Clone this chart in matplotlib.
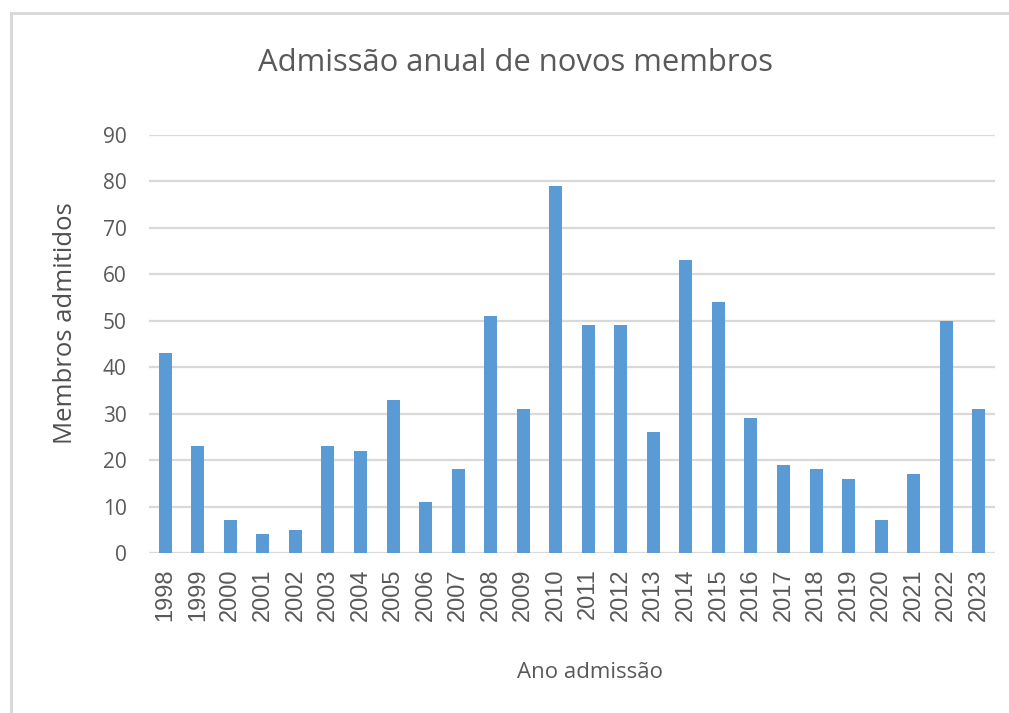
import matplotlib
matplotlib.use("Agg")
import matplotlib.pyplot as plt
from matplotlib.patches import Rectangle

years = ["1998", "1999", "2000", "2001", "2002", "2003", "2004", "2005", "2006",
         "2007", "2008", "2009", "2010", "2011", "2012", "2013", "2014", "2015",
         "2016", "2017", "2018", "2019", "2020", "2021", "2022", "2023"]
members = [43, 23, 7, 4, 5, 23, 22, 33, 11, 18, 51, 31, 79, 49, 49, 26, 63, 54,
           29, 19, 18, 16, 7, 17, 50, 31]
yticks = [0, 10, 20, 30, 40, 50, 60, 70, 80, 90]

title = "Admissão anual de novos membros"
xlabel = "Ano admissão"
ylabel = "Membros admitidos"

W, H = 1009, 713
fig = plt.figure(figsize=(W / 100, H / 100), dpi=100)
fig.patch.set_facecolor("white")

# chart-area border (partly off-canvas on right/bottom)
fig.add_artist(Rectangle((10.5 / W, -0.05), 1.2, 1 - 13 / H + 0.05,
                         transform=fig.transFigure, fill=False,
                         edgecolor="#d9d9d9", linewidth=2.2))

ax = fig.add_axes([149 / W, 1 - 553 / H, (995 - 149) / W, (553 - 135) / H])
x = list(range(len(years)))
ax.bar(x, members, width=0.4, color="#5B9BD5", zorder=3)
ax.set_xlim(-0.5, len(years) - 0.5)
ax.set_ylim(0, 90)
ax.set_yticks(yticks)
ax.yaxis.grid(True, color="#d9d9d9", linewidth=1.6, zorder=0)
ax.set_axisbelow(True)
for s in ax.spines.values():
    s.set_visible(False)
ax.tick_params(axis="both", length=0)
ax.set_xticks(x)
ax.set_xticklabels(years, rotation=90, fontsize=17, color="#595959",
                   family="Liberation Sans")
ax.set_yticklabels([str(v) for v in yticks], fontsize=15, color="#595959",
                   family="Open Sans")
ax.tick_params(axis="x", pad=11)
ax.tick_params(axis="y", pad=16)

fig.text(515.5 / W, 1 - 63 / H, title, ha="center", va="center", fontsize=22.3,
         color="#595959", family="Open Sans")
fig.text(590 / W, 1 - 672 / H, xlabel, ha="center", va="center", fontsize=16,
         color="#595959", family="Open Sans")
fig.text(66 / W, 1 - 323 / H, ylabel, ha="center", va="center", fontsize=18.5,
         color="#505050", family="Open Sans", rotation=90)

fig.savefig("out.png", dpi=100)
